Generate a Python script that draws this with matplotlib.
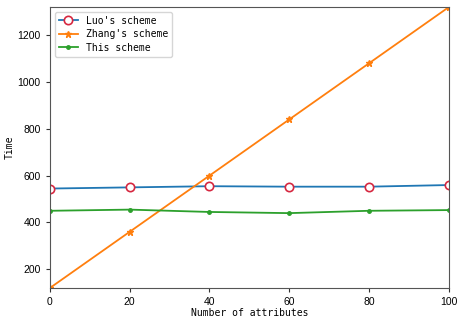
import matplotlib
matplotlib.use("Agg")
import matplotlib.pyplot as plt

x = [0, 20, 40, 60, 80, 100]
luo = [545, 550, 555, 553, 553, 560]
zhang = [120, 360, 600, 840, 1080, 1320]
this = [450, 455, 445, 440, 450, 453]
yticks = [200, 400, 600, 800, 1000, 1200]
xticks = [0, 20, 40, 60, 80, 100]

fig = plt.figure(figsize=(4.57, 3.24), dpi=100)
ax = fig.add_axes([0.109, 0.111, 0.873, 0.867])
ax.plot(x, luo, color='#1f77b4', marker='o', markersize=6, markerfacecolor='white',
        markeredgecolor='#d62740', markeredgewidth=1.2, linewidth=1.3, label="Luo's scheme")
ax.plot(x, zhang, color='#ff7f0e', marker='*', markersize=5, linewidth=1.3, label="Zhang's scheme")
ax.plot(x, this, color='#2ca02c', marker='.', markersize=5, linewidth=1.3, label="This scheme")
ax.set_xlim(0, 100)
ax.set_ylim(120, 1320)
ax.set_xticks(xticks)
ax.set_yticks(yticks)
for lab in ax.get_xticklabels() + ax.get_yticklabels():
    lab.set_fontfamily('Liberation Sans')
    lab.set_fontsize(7.5)
ax.tick_params(length=3, color='#333333')
mono = {'family': 'DejaVu Sans Mono', 'size': 7}
ax.set_xlabel('Number of attributes', fontdict=mono, labelpad=1)
ax.set_ylabel('Time', fontdict=mono, labelpad=2)
for s in ax.spines.values():
    s.set_color('#555555')
leg = ax.legend(loc='upper left', prop={'family': 'DejaVu Sans Mono', 'size': 7},
                handlelength=2.0, borderpad=0.4, labelspacing=0.35)
fig.savefig('out.png', dpi=100)
